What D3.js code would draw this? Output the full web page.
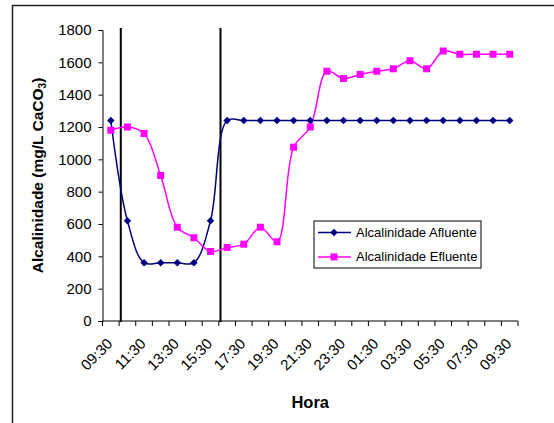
<!DOCTYPE html>
<html>
<head>
<meta charset="utf-8">
<script src="https://cdn.jsdelivr.net/npm/d3@7"></script>
<style>
  body { margin: 0; background: #fff; }
  svg text { font-family: "Liberation Sans", Arial, sans-serif; }
</style>
</head>
<body>
<div id="chart"></div>
<script>
// hourly samples, 09:30 to 09:30 next day
var hours = ["09:30","10:30","11:30","12:30","13:30","14:30","15:30","16:30","17:30","18:30",
  "19:30","20:30","21:30","22:30","23:30","00:30","01:30","02:30","03:30","04:30",
  "05:30","06:30","07:30","08:30","09:30"];
var afluente = [1240,620,360,360,360,360,620,1240,1240,1240,1240,1240,1240,1240,1240,1240,1240,1240,1240,1240,1240,1240,1240,1240,1240];
var efluente = [1180,1200,1160,900,580,515,430,455,475,580,490,1075,1200,1545,1500,1525,1545,1560,1610,1560,1670,1650,1650,1650,1650];
var yTicks = [0,200,400,600,800,1000,1200,1400,1600,1800];
// vertical markers, in category units (0 = first sample)
var markers = [0.6, 6.6];

var width = 554, height = 423;
var margin = {top: 30, right: 36, bottom: 102, left: 102.5};
var innerW = width - margin.left - margin.right;
var innerH = height - margin.top - margin.bottom;

var svg = d3.select("#chart").append("svg")
  .attr("width", width)
  .attr("height", height);

// outer frame
svg.append("rect")
  .attr("x", 12.5).attr("y", 5.5)
  .attr("width", 560).attr("height", 440)
  .attr("fill", "none").attr("stroke", "#222").attr("stroke-width", 1.5);

var g = svg.append("g")
  .attr("transform", "translate(" + margin.left + "," + margin.top + ")");

var idx = hours.map(function(d, i) { return i; });
var x = d3.scaleBand().domain(idx).range([0, innerW]);
var xc = function(i) { return x(0) + x.step() * (i + 0.5); };
var y = d3.scaleLinear().domain([0, 1800]).range([innerH, 0]);

// y axis
var yAxis = g.append("g")
  .call(d3.axisLeft(y).tickValues(yTicks).tickFormat(d3.format("d")).tickSize(4).tickPadding(7));
yAxis.select(".domain").attr("stroke", "#000");
yAxis.selectAll(".tick line").attr("stroke", "#000");
yAxis.selectAll("text").style("font-size", "15px").attr("fill", "#000");

// x axis: ticks between categories
var xg = g.append("g").attr("transform", "translate(0," + innerH + ")");
xg.append("line").attr("x1", 0).attr("x2", innerW).attr("stroke", "#000");
xg.selectAll(".tk").data(d3.range(hours.length + 1)).enter().append("line")
  .attr("x1", function(d) { return x.step() * d; })
  .attr("x2", function(d) { return x.step() * d; })
  .attr("y1", 0).attr("y2", 5).attr("stroke", "#000");
xg.selectAll(".lbl").data(idx.filter(function(i) { return i % 2 === 0; })).enter().append("text")
  .attr("transform", function(i) { return "translate(" + (xc(i) - 1) + ",20) rotate(-45)"; })
  .attr("text-anchor", "end")
  .attr("dy", "0.35em")
  .style("font-size", "15px")
  .text(function(i) { return hours[i]; });

// vertical marker lines
g.selectAll(".marker").data(markers).enter().append("line")
  .attr("x1", function(d) { return xc(d); })
  .attr("x2", function(d) { return xc(d); })
  .attr("y1", -2).attr("y2", innerH + 1)
  .attr("stroke", "#000").attr("stroke-width", 2);

var line = d3.line()
  .x(function(d, i) { return xc(i); })
  .y(function(d) { return y(d); })
  .curve(d3.curveCatmullRom.alpha(0.5));

g.append("path").datum(afluente)
  .attr("d", line).attr("fill", "none")
  .attr("stroke", "#000080").attr("stroke-width", 1.5);
g.append("path").datum(efluente)
  .attr("d", line).attr("fill", "none")
  .attr("stroke", "#ff00ff").attr("stroke-width", 1.5);

var diamond = d3.symbol().type(d3.symbolDiamond2).size(36);
g.selectAll(".afl").data(afluente).enter().append("path")
  .attr("d", diamond)
  .attr("transform", function(d, i) { return "translate(" + xc(i) + "," + y(d) + ")"; })
  .attr("fill", "#000080");

g.selectAll(".efl").data(efluente).enter().append("rect")
  .attr("x", function(d, i) { return xc(i) - 3.5; })
  .attr("y", function(d) { return y(d) - 3.5; })
  .attr("width", 7).attr("height", 7)
  .attr("fill", "#ff00ff");

// axis titles
svg.append("text")
  .attr("x", margin.left + innerW / 2).attr("y", 408)
  .attr("text-anchor", "middle")
  .style("font-size", "16.5px").style("font-weight", "bold")
  .text("Hora");

var yt = svg.append("text")
  .attr("transform", "translate(43," + (margin.top + innerH / 2) + ") rotate(-90)")
  .attr("text-anchor", "middle")
  .style("font-size", "15.5px").style("font-weight", "bold");
yt.append("tspan").text("Alcalinidade (mg/L CaCO");
yt.append("tspan").attr("dy", 3).style("font-size", "10px").text("3");
yt.append("tspan").attr("dy", -3).text(")");

// legend
var legend = svg.append("g").attr("transform", "translate(314,221)");
legend.append("rect").attr("width", 167).attr("height", 47)
  .attr("fill", "#fff").attr("stroke", "#000").attr("stroke-width", 1);
var items = [
  {name: "Alcalinidade Afluente", color: "#000080", sym: "d"},
  {name: "Alcalinidade Efluente", color: "#ff00ff", sym: "s"}
];
var li = legend.selectAll(".li").data(items).enter().append("g")
  .attr("transform", function(d, i) { return "translate(0," + (11.5 + i * 24.4) + ")"; });
li.append("line").attr("x1", 4).attr("x2", 37)
  .attr("stroke", function(d) { return d.color; }).attr("stroke-width", 1.5);
li.each(function(d) {
  var s = d3.select(this);
  if (d.sym === "d") {
    s.append("path").attr("d", diamond).attr("transform", "translate(20,0)").attr("fill", d.color);
  } else {
    s.append("rect").attr("x", 16.5).attr("y", -3.5).attr("width", 7).attr("height", 7).attr("fill", d.color);
  }
});
li.append("text").attr("x", 42).attr("dy", "0.35em")
  .style("font-size", "13px")
  .text(function(d) { return d.name; });
</script>
</body>
</html>
